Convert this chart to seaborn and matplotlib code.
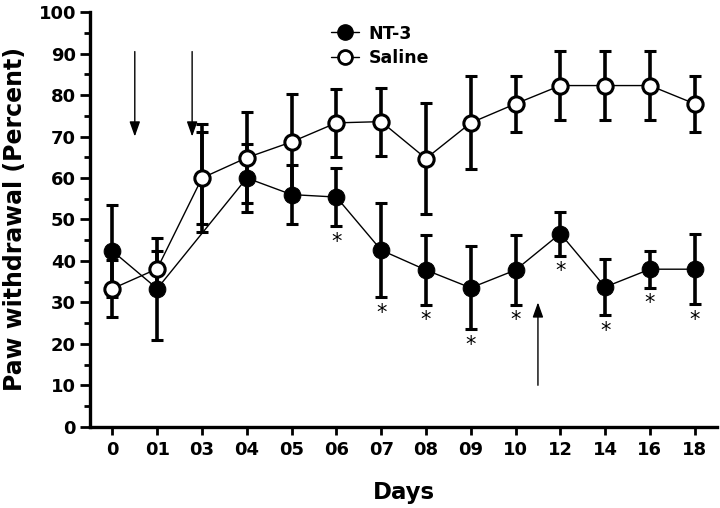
import numpy as np
import pandas as pd
import matplotlib
matplotlib.use("Agg")
import matplotlib.pyplot as plt
import seaborn as sns
from matplotlib.ticker import MultipleLocator
from matplotlib.lines import Line2D

# values
days = ["0", "01", "03", "04", "05", "06", "07", "08", "09", "10", "12", "14", "16", "18"]
nt3 = [42.4, 33.3, 60.0, 60.0, 56.0, 55.4, 42.6, 37.8, 33.5, 37.8, 46.6, 33.7, 38.0, 38.0]
nt3_err = [11.2, 12.3, 11.0, 8.2, 7.2, 7.0, 11.3, 8.4, 10.0, 8.4, 5.3, 6.8, 4.5, 8.4]
saline = [33.3, 38.1, 60.0, 64.9, 68.7, 73.3, 73.6, 64.7, 73.3, 77.9, 82.3, 82.3, 82.3, 77.9]
saline_err = [6.9, 4.2, 13.0, 11.0, 11.5, 8.2, 8.2, 13.3, 11.2, 6.8, 8.3, 8.3, 8.3, 6.8]
nt3_not_plotted = ["03"]          # NT-3 line/marker skips this day
significant = ["06", "07", "08", "09", "10", "12", "14", "16", "18"]
# arrows: (x position in day-slots, y start, y end)
arrows = [(0.5, 90.5, 70), (1.78, 90.5, 70), (9.5, 10, 30)]

pos = np.arange(len(days))
df = pd.DataFrame({"pos": np.concatenate([pos, pos]),
                   "day": days + days,
                   "value": nt3 + saline,
                   "err": nt3_err + saline_err,
                   "group": ["NT-3"] * len(days) + ["Saline"] * len(days)})

sns.set_style("ticks")
plt.rcParams["font.family"] = ["DejaVu Sans"]
plt.rcParams["font.weight"] = "bold"
for k in ["text.color", "axes.labelcolor", "xtick.color", "ytick.color", "axes.edgecolor"]:
    plt.rcParams[k] = "black"

fig = plt.figure(figsize=(7.2, 5.08), dpi=100)
ax = fig.add_axes([0.125, 0.16, 0.871, 0.816])

# error bars first
for g in ["NT-3", "Saline"]:
    d = df[df["group"] == g]
    ax.errorbar(d["pos"], d["value"], yerr=d["err"], fmt="none", ecolor="black",
                elinewidth=2.6, capsize=4, capthick=2.2, zorder=2)

line_df = df[~((df["group"] == "NT-3") & (df["day"].isin(nt3_not_plotted)))]
sns.lineplot(data=line_df[line_df["group"] == "NT-3"], x="pos", y="value", ax=ax,
             color="black", lw=1.0, marker="o", markersize=12,
             markerfacecolor="black", markeredgecolor="black", zorder=3)
sns.lineplot(data=line_df[line_df["group"] == "Saline"], x="pos", y="value", ax=ax,
             color="black", lw=1.0, marker="o", markersize=11,
             markerfacecolor="white", markeredgecolor="black", markeredgewidth=2.2,
             zorder=4)

# significance asterisks under the NT-3 error bars
for i, day in enumerate(days):
    if day in significant:
        ax.annotate("*", (pos[i], nt3[i] - nt3_err[i]), xytext=(0, -4),
                    textcoords="offset points", ha="center", va="top",
                    fontsize=15, fontweight="normal")

for x, y0, y1 in arrows:
    ax.annotate("", xy=(x, y1), xytext=(x, y0),
                arrowprops=dict(arrowstyle="-|>,head_length=0.9,head_width=0.32",
                                color="black", lw=1.0, shrinkA=0, shrinkB=0))

ax.set_xlim(-0.5, len(days) - 0.5)
ax.set_ylim(0, 100)
ax.set_xticks(pos)
ax.set_xticklabels(days)
ax.yaxis.set_major_locator(MultipleLocator(10))
ax.yaxis.set_minor_locator(MultipleLocator(5))
ax.tick_params(axis="both", which="major", labelsize=13, width=2, color="black")
ax.tick_params(axis="y", which="major", length=7, pad=3)
ax.tick_params(axis="y", which="minor", length=4, width=2)
ax.tick_params(axis="x", which="major", length=6, pad=4)
for lab in ax.get_xticklabels() + ax.get_yticklabels():
    lab.set_fontweight("bold")
sns.despine(ax=ax)
for s in ["left", "bottom"]:
    ax.spines[s].set_linewidth(2.4)
    ax.spines[s].set_color("black")

ax.set_xlabel("Days", fontsize=16.5, fontweight="bold", labelpad=16)
ax.set_ylabel("Paw withdrawal (Percent)", fontsize=17, fontweight="bold", labelpad=8)

handles = [Line2D([], [], color="black", lw=1.0, marker="o", markersize=11,
                  markerfacecolor="black"),
           Line2D([], [], color="black", lw=1.0, marker="o", markersize=10,
                  markerfacecolor="white", markeredgewidth=2.0)]
leg = ax.legend(handles, ["NT-3", "Saline"], loc="upper left",
                bbox_to_anchor=(0.36, 1.008), frameon=False, handlelength=1.6,
                handletextpad=0.55, labelspacing=0.35, prop={"size": 12.5, "weight": "bold"})

fig.savefig("out.png", dpi=100)
